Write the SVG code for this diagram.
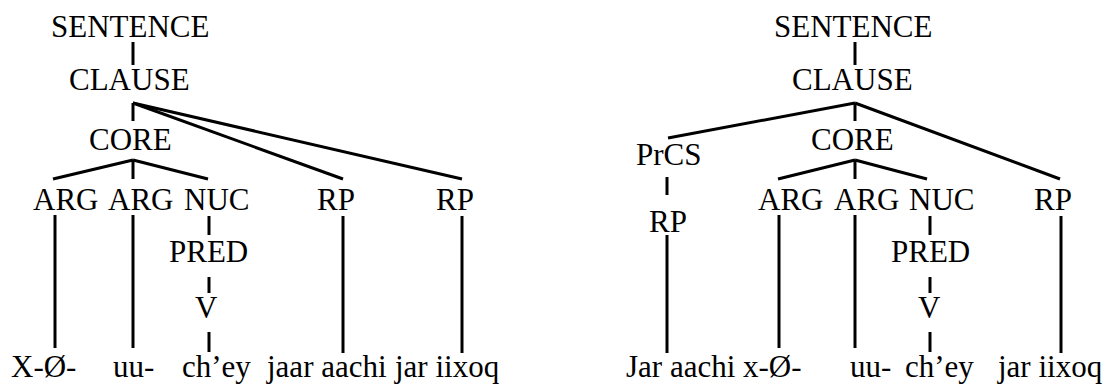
<svg xmlns="http://www.w3.org/2000/svg" width="1114" height="389" viewBox="0 0 1114 389">
<style>
text{font-family:"Liberation Serif","Times New Roman",serif;font-size:31px;fill:#000}
.c line{stroke:#000;stroke-width:3;stroke-linecap:butt}
</style>
<rect width="1114" height="389" fill="#fff"/>
<g class="c" id="connectors">
<line x1="133" y1="42" x2="133" y2="65"/>
<line x1="133" y1="103" x2="133" y2="121"/>
<line x1="133" y1="103" x2="343" y2="179"/>
<line x1="133" y1="103" x2="462" y2="179"/>
<line x1="133" y1="160" x2="53" y2="179"/>
<line x1="133" y1="160" x2="133" y2="179"/>
<line x1="133" y1="160" x2="208" y2="179"/>
<line x1="55" y1="215" x2="55" y2="348"/>
<line x1="133" y1="215" x2="133" y2="348"/>
<line x1="209" y1="216" x2="209" y2="235"/>
<line x1="209" y1="277" x2="209" y2="293"/>
<line x1="209" y1="332" x2="209" y2="352"/>
<line x1="343" y1="216" x2="343" y2="353"/>
<line x1="462" y1="216" x2="462" y2="353"/>
<line x1="855" y1="42" x2="855" y2="65"/>
<line x1="855" y1="103" x2="855" y2="121"/>
<line x1="855" y1="103" x2="668" y2="138"/>
<line x1="855" y1="103" x2="1060" y2="179"/>
<line x1="855" y1="160" x2="778" y2="179"/>
<line x1="855" y1="160" x2="855" y2="179"/>
<line x1="855" y1="160" x2="927" y2="179"/>
<line x1="667" y1="177" x2="667" y2="195"/>
<line x1="667" y1="235" x2="667" y2="353"/>
<line x1="779" y1="215" x2="779" y2="348"/>
<line x1="855" y1="215" x2="855" y2="348"/>
<line x1="930" y1="216" x2="930" y2="235"/>
<line x1="930" y1="277" x2="930" y2="293"/>
<line x1="930" y1="332" x2="930" y2="352"/>
<line x1="1061" y1="216" x2="1061" y2="353"/>
</g>
<g id="l-sentence"><text x="51" y="37">SENTENCE</text></g>
<g id="l-clause"><text x="69" y="90">CLAUSE</text></g>
<g id="l-core"><text x="89" y="150">CORE</text></g>
<g id="l-arg1"><text x="33" y="210">ARG</text></g>
<g id="l-arg2"><text x="108" y="210">ARG</text></g>
<g id="l-nuc"><text x="184" y="210">NUC</text></g>
<g id="l-rp1"><text x="317" y="210">RP</text></g>
<g id="l-rp2"><text x="436" y="210">RP</text></g>
<g id="l-pred"><text x="169" y="262">PRED</text></g>
<g id="l-v"><text x="195" y="318">V</text></g>
<g id="l-w1"><text x="11" y="377">X-Ø-</text></g>
<g id="l-w2"><text x="113" y="377">uu-</text></g>
<g id="l-w3"><text x="182" y="377">ch’ey</text></g>
<g id="l-w4"><text x="267" y="377">jaar aachi</text></g>
<g id="l-w5"><text x="395" y="377">jar iixoq</text></g>
<g id="r-sentence"><text x="774" y="37">SENTENCE</text></g>
<g id="r-clause"><text x="792" y="90">CLAUSE</text></g>
<g id="r-core"><text x="811" y="150">CORE</text></g>
<g id="r-prcs"><text x="636" y="165">PrCS</text></g>
<g id="r-rp0"><text x="649" y="232">RP</text></g>
<g id="r-arg1"><text x="758" y="210">ARG</text></g>
<g id="r-arg2"><text x="834" y="210">ARG</text></g>
<g id="r-nuc"><text x="909" y="210">NUC</text></g>
<g id="r-rp"><text x="1034" y="210">RP</text></g>
<g id="r-pred"><text x="891" y="262">PRED</text></g>
<g id="r-v"><text x="918" y="318">V</text></g>
<g id="r-w1"><text x="626" y="377">Jar aachi x-Ø-</text></g>
<g id="r-w2"><text x="850" y="377">uu-</text></g>
<g id="r-w3"><text x="905" y="377">ch’ey</text></g>
<g id="r-w4"><text x="998" y="377">jar iixoq</text></g>
</svg>
